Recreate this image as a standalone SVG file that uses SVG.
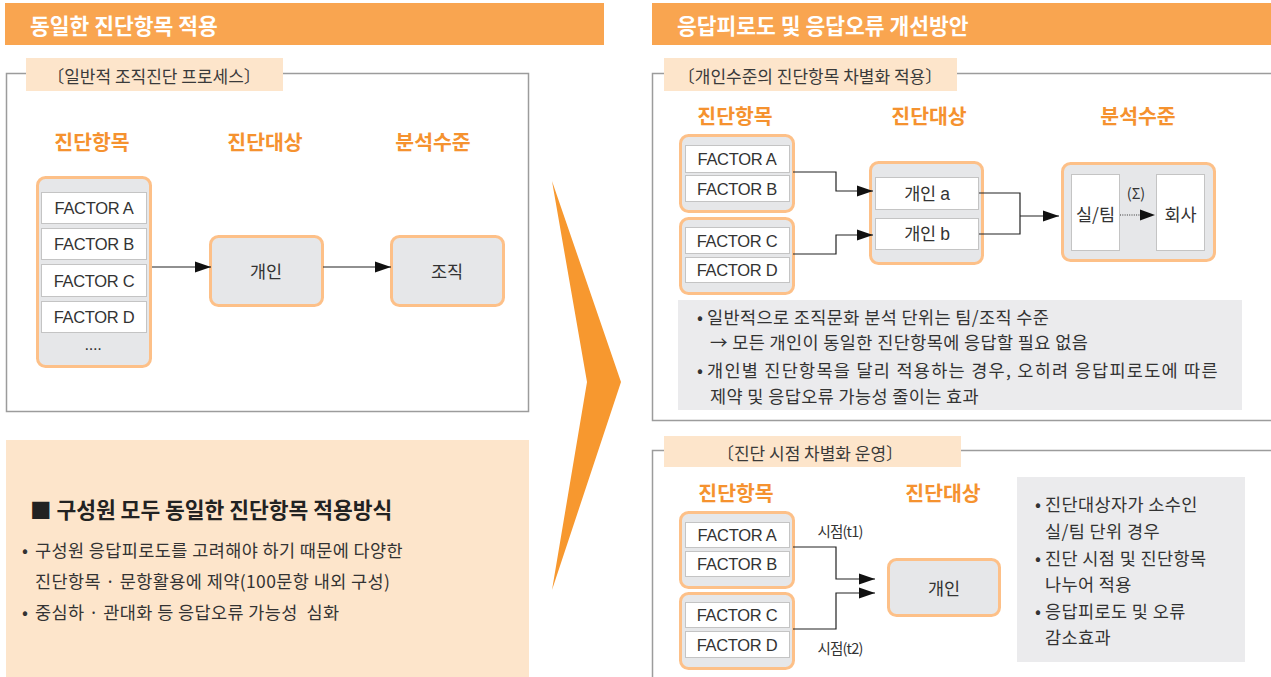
<svg xmlns="http://www.w3.org/2000/svg" width="1271" height="677" viewBox="0 0 1271 677">
<defs>
<style>
text{font-family:"Noto Sans CJK KR","Noto Sans",sans-serif;fill:#333;dominant-baseline:central}
.hd{font-size:21.5px;font-weight:bold;fill:#fff}
.bar{fill:#f9a550}
.tab{fill:#fde5cb}
.tabt{font-size:17px;text-anchor:middle;fill:#3a3a3a}
.col{font-size:20.5px;font-weight:bold;fill:#f5922f;text-anchor:middle}
.cont{fill:#e6e7e9;stroke:#fdc088;stroke-width:3}
.fac{fill:#fff;stroke:#c4c4c4;stroke-width:1}
.ft{font-family:"Liberation Sans","Noto Sans CJK KR",sans-serif;font-size:16.5px;text-anchor:middle;letter-spacing:-0.3px}
.kt{font-size:17.5px;text-anchor:middle}
.frame{fill:none;stroke:#9c9c9c;stroke-width:1.5}
.gbox{fill:#ebebed}
.body{font-size:17.5px;letter-spacing:0.4px}
.lbl{font-size:14.5px;text-anchor:middle;letter-spacing:-0.8px}
.con{fill:none;stroke:#222;stroke-width:1.2}
</style>
<marker id="ah" markerUnits="userSpaceOnUse" markerWidth="16" markerHeight="12" refX="16" refY="6" orient="auto"><path d="M0,0.5 L16,6 L0,11.5 z" fill="#111"/></marker>
</defs>

<!-- LEFT SECTION -->
<g id="left-header">
<rect class="bar" x="5" y="3" width="599" height="42"/>
<text class="hd" x="30" y="24">동일한 진단항목 적용</text>
</g>

<g id="left-frame">
<rect class="frame" x="6.5" y="73.5" width="522" height="338"/>
<rect class="tab" x="26" y="58" width="257" height="33"/>
<text class="tabt" x="154" y="75">〔일반적 조직진단 프로세스〕</text>
</g>

<g id="left-colheads">
<text class="col" x="92" y="141">진단항목</text>
<text class="col" x="265" y="141">진단대상</text>
<text class="col" x="433" y="141">분석수준</text>
</g>

<g id="left-factors">
<rect class="cont" x="37.5" y="177.5" width="113" height="189" rx="8"/>
<rect class="fac" x="41.5" y="192.5" width="105" height="31"/>
<text class="ft" x="94" y="208">FACTOR A</text>
<rect class="fac" x="41.5" y="228.5" width="105" height="31"/>
<text class="ft" x="94" y="244">FACTOR B</text>
<rect class="fac" x="41.5" y="264.5" width="105" height="32"/>
<text class="ft" x="94" y="281">FACTOR C</text>
<rect class="fac" x="41.5" y="301.5" width="105" height="31"/>
<text class="ft" x="94" y="317">FACTOR D</text>
<text class="ft" x="93" y="344">....</text>
</g>

<g id="left-individual">
<rect class="cont" x="210.5" y="236.5" width="112" height="69" rx="8"/>
<text class="kt" x="266" y="270">개인</text>
</g>

<g id="left-org">
<rect class="cont" x="391.5" y="236.5" width="112" height="69" rx="8"/>
<text class="kt" x="447" y="270">조직</text>
</g>

<g id="left-connectors">
<path class="con" d="M152,267 H211" marker-end="url(#ah)"/>
<path class="con" d="M323,267 H391" marker-end="url(#ah)"/>
</g>

<g id="left-summary">
<rect class="tab" x="6" y="440" width="523" height="237"/>
<text x="30" y="508" style="font-size:21.5px;font-weight:bold;fill:#222">■ 구성원 모두 동일한 진단항목 적용방식</text>
<text class="body" y="549"><tspan x="22">•</tspan><tspan x="35">구성원 응답피로도를 고려해야 하기 때문에 다양한</tspan></text>
<text class="body" x="35" y="580">진단항목 · 문항활용에 제약(100문항 내외 구성)</text>
<text class="body" y="611" style="white-space:pre"><tspan x="22">•</tspan><tspan x="35">중심하 · 관대화 등 응답오류 가능성  심화</tspan></text>
</g>

<g id="chevron">
<polygon points="552,181 621,382 552,590 587,382" fill="#f7982f"/>
</g>

<!-- RIGHT SECTION -->
<g id="right-header">
<rect class="bar" x="652" y="3" width="619" height="42"/>
<text class="hd" x="677" y="24">응답피로도 및 응답오류 개선방안</text>
</g>

<g id="right-frame1">
<path class="frame" d="M1272,73.5 H652.5 V420.5 H1272"/>
<rect class="tab" x="664" y="58" width="293" height="33"/>
<text class="tabt" x="810" y="75">〔개인수준의 진단항목 차별화 적용〕</text>
</g>

<g id="r1-colheads">
<text class="col" x="735" y="115">진단항목</text>
<text class="col" x="929" y="115">진단대상</text>
<text class="col" x="1138" y="115">분석수준</text>
</g>

<g id="r1-factors-ab">
<rect class="cont" x="680.5" y="135.5" width="113" height="76" rx="8"/>
<rect class="fac" x="685.5" y="145.5" width="104" height="27"/>
<text class="ft" x="737" y="159">FACTOR A</text>
<rect class="fac" x="685.5" y="175.5" width="104" height="26"/>
<text class="ft" x="737" y="188.5">FACTOR B</text>
</g>

<g id="r1-factors-cd">
<rect class="cont" x="680.5" y="218.5" width="113" height="75" rx="8"/>
<rect class="fac" x="685.5" y="227.5" width="104" height="26"/>
<text class="ft" x="737" y="240.5">FACTOR C</text>
<rect class="fac" x="685.5" y="257.5" width="104" height="25"/>
<text class="ft" x="737" y="270">FACTOR D</text>
</g>

<g id="r1-individuals">
<rect class="cont" x="870.5" y="162.5" width="112" height="101" rx="8"/>
<rect class="fac" x="875.5" y="177.5" width="103" height="32"/>
<text class="ft" x="927" y="193.5" style="font-size:17.5px">개인 a</text>
<rect class="fac" x="875.5" y="218.5" width="103" height="31"/>
<text class="ft" x="927" y="234" style="font-size:17.5px">개인 b</text>
</g>

<g id="r1-analysis">
<rect class="cont" x="1062.5" y="163.5" width="152" height="97" rx="8"/>
<rect class="fac" x="1071.5" y="174.5" width="48" height="76"/>
<text class="kt" x="1095.5" y="213">실/팀</text>
<rect class="fac" x="1156.5" y="174.5" width="48" height="76"/>
<text class="kt" x="1180.5" y="213">회사</text>
<text x="1136" y="192" style="font-size:14.5px;text-anchor:middle">(Σ)</text>
<path d="M1120,215 H1141" fill="none" stroke="#333" stroke-width="1.2" stroke-dasharray="1,1.3"/>
<path d="M1140,209.5 L1155,215 L1140,220.5 z" fill="#111"/>
</g>

<g id="r1-connectors">
<path class="con" d="M793,172 H836 V191 H873" marker-end="url(#ah)"/>
<path class="con" d="M793,254 H836 V235 H873" marker-end="url(#ah)"/>
<path class="con" d="M979,193 H1020 V234 H979"/>
<path class="con" d="M1020,216 H1059" marker-end="url(#ah)"/>
</g>

<g id="r1-notes">
<rect class="gbox" x="678" y="300" width="564" height="110"/>
<text class="body" y="316"><tspan x="697">•</tspan><tspan x="707">일반적으로 조직문화 분석 단위는 팀/조직 수준</tspan></text>
<text class="body" x="710" y="341">→ 모든 개인이 동일한 진단항목에 응답할 필요 없음</text>
<text class="body" y="369"><tspan x="697">•</tspan><tspan x="707" textLength="511" lengthAdjust="spacing">개인별 진단항목을 달리 적용하는 경우, 오히려 응답피로도에 따른</tspan></text>
<text class="body" x="710" y="395">제약 및 응답오류 가능성 줄이는 효과</text>
</g>

<g id="right-frame2">
<path class="frame" d="M1272,450.5 H652.5 V678"/>
<rect class="tab" x="664" y="436" width="297" height="31"/>
<text class="tabt" x="810" y="452">〔진단 시점 차별화 운영〕</text>
</g>

<g id="r2-colheads">
<text class="col" x="736" y="492">진단항목</text>
<text class="col" x="943" y="492">진단대상</text>
</g>

<g id="r2-factors-ab">
<rect class="cont" x="680.5" y="512.5" width="113" height="75" rx="8"/>
<rect class="fac" x="685.5" y="522.5" width="104" height="25"/>
<text class="ft" x="737" y="535">FACTOR A</text>
<rect class="fac" x="685.5" y="551.5" width="104" height="25"/>
<text class="ft" x="737" y="564">FACTOR B</text>
</g>

<g id="r2-factors-cd">
<rect class="cont" x="680.5" y="593.5" width="113" height="75" rx="8"/>
<rect class="fac" x="685.5" y="602.5" width="104" height="25"/>
<text class="ft" x="737" y="615">FACTOR C</text>
<rect class="fac" x="685.5" y="631.5" width="104" height="26"/>
<text class="ft" x="737" y="644.5">FACTOR D</text>
</g>

<g id="r2-individual">
<rect class="cont" x="888.5" y="559.5" width="111" height="56" rx="8"/>
<text class="kt" x="944" y="587">개인</text>
</g>

<g id="r2-connectors">
<path class="con" d="M793,547 H836 V579 H875" marker-end="url(#ah)"/>
<path class="con" d="M793,629 H836 V593 H875" marker-end="url(#ah)"/>
<text class="lbl" x="840" y="530">시점(t1)</text>
<text class="lbl" x="840" y="647">시점(t2)</text>
</g>

<g id="r2-notes">
<rect class="gbox" x="1017" y="477" width="228" height="185"/>
<text class="body" y="503"><tspan x="1035">•</tspan><tspan x="1045">진단대상자가 소수인</tspan></text>
<text class="body" x="1045" y="530">실/팀 단위 경우</text>
<text class="body" y="557"><tspan x="1035">•</tspan><tspan x="1045">진단 시점 및 진단항목</tspan></text>
<text class="body" x="1045" y="583">나누어 적용</text>
<text class="body" y="610"><tspan x="1035">•</tspan><tspan x="1045">응답피로도 및 오류</tspan></text>
<text class="body" x="1045" y="636">감소효과</text>
</g>
</svg>
